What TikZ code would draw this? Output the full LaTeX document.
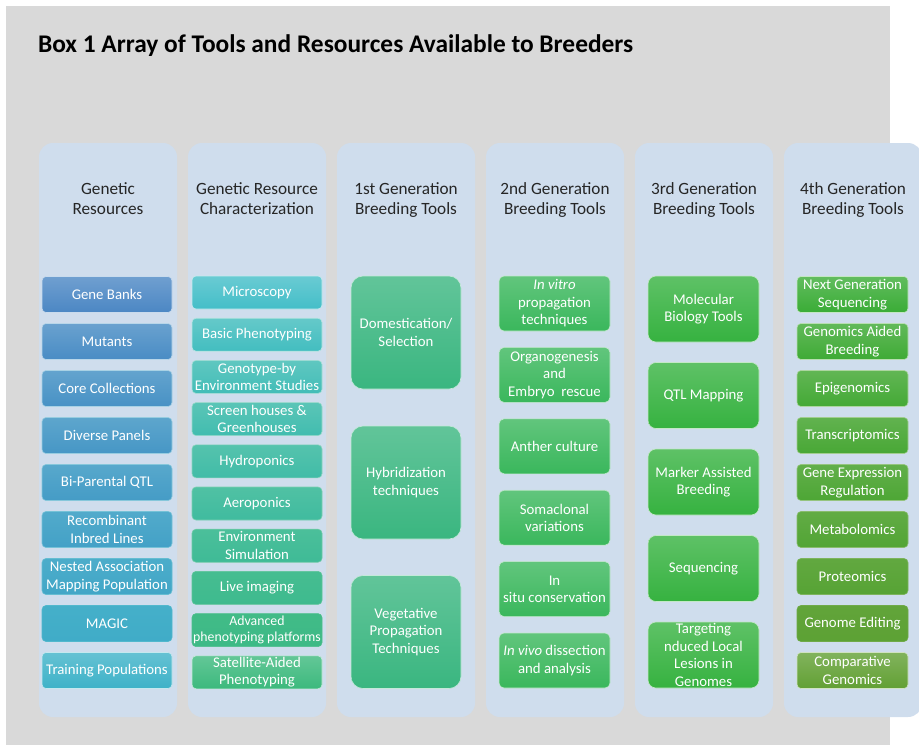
\documentclass[tikz,border=0pt]{standalone}
\definecolor{BXGray}{RGB}{217,217,217}
\definecolor{BXPanel}{RGB}{207,221,237}
\definecolor{GRBlue}{RGB}{75,135,196}
\definecolor{GRCyan}{RGB}{62,178,200}
\definecolor{GCCyan}{RGB}{68,190,200}
\definecolor{GCGreen}{RGB}{60,185,125}
\definecolor{G1Green}{RGB}{58,182,128}
\definecolor{G2Green}{RGB}{58,183,92}
\definecolor{G3Green}{RGB}{54,178,64}
\definecolor{G4Green}{RGB}{58,172,54}
\definecolor{G4Olive}{RGB}{98,160,52}
\usepackage{fontspec}
\setmainfont{Carlito}
\usepackage{tikz}
\usetikzlibrary{positioning}

\begin{document}
\begin{tikzpicture}[x=1pt, y=-1pt,
        panel/.style={fill=BXPanel, rounded corners=14pt, minimum width=138pt,
                      minimum height=574pt, inner sep=0pt},
        head/.style={align=center, font=\fontsize{17.2}{20.5}\selectfont, text=black!85},
        tool/.style={draw=white!70!#1, line width=0.6pt, top color=white!20!#1,
                     bottom color=#1, text=white, align=center, inner xsep=0pt,
                     inner ysep=1pt, font=\fontsize{14.8}{17.5}\selectfont,
                     minimum width=130pt, rounded corners=4pt}
      ]
        \useasboundingbox (0,0) rectangle (919,745);
        \fill[BXGray] (6,6) rectangle (890,745);
        \node[anchor=west, font=\fontsize{25.4}{30}\selectfont\bfseries] (title) at (34.5,46)
          {Box 1 Array of Tools and Resources Available to Breeders};

        % columns
        \node[panel] (gr) at (108,430) {};
        \node[panel] (grc) at (257,430) {};
        \node[panel] (gen1) at (406,430) {};
        \node[panel] (gen2) at (555,430) {};
        \node[panel] (gen3) at (704,430) {};
        \node[panel] (gen4) at (853,430) {};

        \node[head, below=36pt of gr.north] (grh) {Genetic\\ Resources};
        \node[head, below=36pt of grc.north] (grch) {Genetic Resource\\ Characterization};
        \node[head, below=36pt of gen1.north] (gen1h) {1st Generation\\ Breeding Tools};
        \node[head, below=36pt of gen2.north] (gen2h) {2nd Generation\\ Breeding Tools};
        \node[head, below=36pt of gen3.north] (gen3h) {3rd Generation\\ Breeding Tools};
        \node[head, below=36pt of gen4.north] (gen4h) {4th Generation\\ Breeding Tools};

        % genetic resources
        \node[tool=GRBlue, minimum height=36pt] (banks) at (107,294.5) {Gene Banks};
        \node[tool=GRBlue!88!GRCyan, minimum height=36pt] (mutants) at (107,341.5) {Mutants};
        \node[tool=GRBlue!76!GRCyan, minimum height=36pt] (core) at (107,388.5) {Core Collections};
        \node[tool=GRBlue!64!GRCyan, minimum height=36pt] (panels) at (107,435.5) {Diverse Panels};
        \node[tool=GRBlue!52!GRCyan, minimum height=36pt] (biqtl) at (107,482.5) {Bi-Parental QTL};
        \node[tool=GRBlue!40!GRCyan, minimum height=36pt] (ril) at (107,529.5) {Recombinant\\ Inbred Lines};
        \node[tool=GRBlue!28!GRCyan, minimum height=36pt] (nam) at (107,576.5) {Nested Association\\ Mapping Population};
        \node[tool=GRBlue!14!GRCyan, minimum height=36pt] (magic) at (107,623.5) {MAGIC};
        \node[tool=GRCyan, minimum height=36pt] (training) at (107,670.5) {Training Populations};

        % characterization
        \node[tool=GCCyan, minimum height=33pt] (micro) at (257,292.5) {Microscopy};
        \node[tool=GCCyan!89!GCGreen, minimum height=33pt] (basic) at (257,334.7) {Basic Phenotyping};
        \node[tool=GCCyan!78!GCGreen, minimum height=33pt] (gxe) at (257,376.9) {Genotype-by\\ Environment Studies};
        \node[tool=GCCyan!67!GCGreen, minimum height=33pt] (screen) at (257,419.1) {Screen houses \&\\ Greenhouses};
        \node[tool=GCCyan!56!GCGreen, minimum height=33pt] (hydro) at (257,461.3) {Hydroponics};
        \node[tool=GCCyan!45!GCGreen, minimum height=33pt] (aero) at (257,503.5) {Aeroponics};
        \node[tool=GCCyan!34!GCGreen, minimum height=33pt] (envsim) at (257,545.7) {Environment\\ Simulation};
        \node[tool=GCCyan!23!GCGreen, minimum height=33pt] (live) at (257,587.9) {Live imaging};
        \node[tool=GCCyan!12!GCGreen, minimum height=33pt, font=\fontsize{13.8}{16.5}\selectfont] (advanced) at (257,630.1) {Advanced\\ phenotyping platforms};
        \node[tool=GCGreen, minimum height=33pt] (satellite) at (257,672.3) {Satellite-Aided\\ Phenotyping};

        % 1st generation
        \node[tool=G1Green, minimum width=110pt, minimum height=113pt, rounded corners=12pt] (domest) at (406,332.5) {Domestication/\\ Selection};
        \node[tool=G1Green, minimum width=110pt, minimum height=113pt, rounded corners=12pt] (hybrid) at (406,482.5) {Hybridization\\ techniques};
        \node[tool=G1Green, minimum width=110pt, minimum height=113pt, rounded corners=12pt] (veget) at (406,632) {Vegetative\\ Propagation\\ Techniques};

        % 2nd generation
        \node[tool=G2Green, minimum width=111pt, minimum height=55pt, rounded corners=5pt] (invitro) at (554.5,303.5) {\textit{In vitro}\\ propagation\\ techniques};
        \node[tool=G2Green, minimum width=111pt, minimum height=55pt, rounded corners=5pt] (organo) at (554.5,374.9) {Organogenesis\\ and\\ Embryo~ rescue};
        \node[tool=G2Green, minimum width=111pt, minimum height=55pt, rounded corners=5pt] (anther) at (554.5,446.3) {Anther culture};
        \node[tool=G2Green, minimum width=111pt, minimum height=55pt, rounded corners=5pt] (somaclonal) at (554.5,517.7) {Somaclonal\\ variations};
        \node[tool=G2Green, minimum width=111pt, minimum height=55pt, rounded corners=5pt] (insitu) at (554.5,589.1) {In\\ situ conservation};
        \node[tool=G2Green, minimum width=111pt, minimum height=55pt, rounded corners=5pt] (invivo) at (554.5,660.5) {\textit{In vivo} dissection\\ and analysis};

        % 3rd generation
        \node[tool=G3Green, minimum width=111pt, minimum height=66pt, rounded corners=8pt] (molbio) at (703.5,309) {Molecular\\ Biology Tools};
        \node[tool=G3Green, minimum width=111pt, minimum height=66pt, rounded corners=8pt] (qtl) at (703.5,395.5) {QTL Mapping};
        \node[tool=G3Green, minimum width=111pt, minimum height=66pt, rounded corners=8pt] (mas) at (703.5,482) {Marker Assisted\\ Breeding};
        \node[tool=G3Green, minimum width=111pt, minimum height=66pt, rounded corners=8pt] (seq) at (703.5,568.5) {Sequencing};
        \node[tool=G3Green, minimum width=111pt, minimum height=66pt, rounded corners=8pt] (tilling) at (703.5,655) {Targeting\\ nduced Local\\ Lesions in\\ Genomes};

        % 4th generation
        \node[tool=G4Green, minimum width=111pt, minimum height=36pt] (ngs) at (852.5,294.5) {Next Generation\\ Sequencing};
        \node[tool=G4Green!88!G4Olive, minimum width=111pt, minimum height=36pt] (gab) at (852.5,341.5) {Genomics Aided\\ Breeding};
        \node[tool=G4Green!76!G4Olive, minimum width=111pt, minimum height=36pt] (epi) at (852.5,388.5) {Epigenomics};
        \node[tool=G4Green!64!G4Olive, minimum width=111pt, minimum height=36pt] (trans) at (852.5,435.5) {Transcriptomics};
        \node[tool=G4Green!52!G4Olive, minimum width=111pt, minimum height=36pt] (expr) at (852.5,482.5) {Gene Expression\\ Regulation};
        \node[tool=G4Green!40!G4Olive, minimum width=111pt, minimum height=36pt] (metab) at (852.5,529.5) {Metabolomics};
        \node[tool=G4Green!28!G4Olive, minimum width=111pt, minimum height=36pt] (prot) at (852.5,576.5) {Proteomics};
        \node[tool=G4Green!14!G4Olive, minimum width=111pt, minimum height=36pt] (editing) at (852.5,623.5) {Genome Editing};
        \node[tool=G4Olive, minimum width=111pt, minimum height=36pt] (compar) at (852.5,670.5) {Comparative\\ Genomics};
      \end{tikzpicture}
\end{document}
